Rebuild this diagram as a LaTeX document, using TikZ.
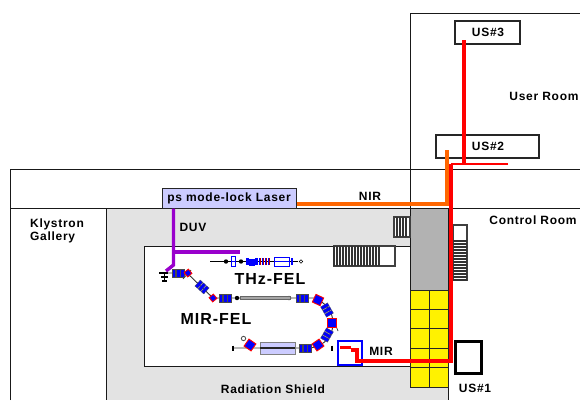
\documentclass[tikz,border=0pt]{standalone}
\usepackage{fontspec}
\setmainfont{Liberation Sans}[LetterSpace=6]
\usetikzlibrary{arrows.meta}
\usetikzlibrary{calc}

\definecolor{shieldgray}{RGB}{227,227,227}
\definecolor{blockgray}{RGB}{178,178,178}
\definecolor{laserblue}{RGB}{204,204,255}
\definecolor{duvpurple}{RGB}{153,0,204}
\definecolor{nirorange}{RGB}{255,102,0}

\tikzset{
    wall/.style={draw=black!90, line width=0.9pt},
    roomlabel/.style={inner sep=0pt, font=\bfseries\fontsize{12}{13.5}\selectfont},
    bigtext/.style={inner sep=0pt, font=\bfseries\fontsize{16}{18}\selectfont},
    userbox/.style={draw=black!85, line width=1.8pt, fill=white},
    stairs/.style={draw=black!75, line width=1.2pt},
    beam/.style={red, line width=3.4pt},
    beamline/.style={draw=black!80, line width=0.9pt},
    quadm/.style={fill=blue, draw=black!70, line width=0.3pt, minimum width=3.4pt, minimum height=8pt, inner sep=0pt},
    dipole/.style={fill=blue, draw=red, line width=0.9pt, minimum width=8.5pt, minimum height=8.5pt, inner sep=0pt},
    dipolesmall/.style={dipole, minimum width=5.5pt, minimum height=5.5pt},
}

\newcommand{\triplet}[3]{%
    \foreach \d in {-4.2,0,4.2} {
        \node[quadm, rotate=-#3] at ($(#1,#2)+(#3:\d)$) {};
    }
}

\begin{document}
\begin{tikzpicture}[x=1pt, y=-1pt]
    \useasboundingbox (0, 0) rectangle (580, 400);

    % building
    \fill[shieldgray] (106, 208) rectangle (448, 400);
    \fill[white] (144, 246) rectangle (410, 366);
    \draw[wall] (10, 400) -- (10, 169) -- (580, 169);
    \draw[wall] (10, 208) -- (580, 208);
    \draw[wall] (106, 208) -- (106, 400);
    \draw[wall] (580, 13) -- (410, 13) -- (410, 208);
    \draw[wall] (448, 208) -- (448, 400);
    \draw[wall] (144, 246) rectangle (410, 366);

    % concrete and yellow blocks
    \draw[wall, fill=blockgray] (410, 208) rectangle (448, 290);
    \foreach \r in {0,...,4} {
        \foreach \c in {0,1} {
            \draw[black!85, line width=1pt, fill=yellow] (410+19*\c, 290+19.4*\r) rectangle +(19, 19.4);
        }
    }

    % stairs
    \draw[stairs, fill=white] (394, 217) rectangle (410, 237);
    \foreach \i in {397,400,...,408} {
        \draw[black!80, line width=1.2pt] (\i, 217) -- (\i, 237);
    }
    \draw[stairs, fill=white] (334, 246) rectangle (395, 266);
    \foreach \i in {334,337,...,380} {
        \draw[black!80, line width=1.2pt] (\i, 246) -- (\i, 266);
    }
    \draw[stairs, fill=white] (453, 225) rectangle (467, 280);
    \foreach \i in {241,244,...,280} {
        \draw[black!80, line width=1.2pt] (453, \i) -- (467, \i);
    }

    % THz-FEL line
    \draw[black, line width=1.2pt] (210, 261.5) -- (298, 261.5);
    \draw[black, fill=white, line width=0.6pt] (301, 261.5) circle (1.8);
    \fill[black] (226, 261.5) circle (2.2);
    \fill[black] (241, 261.5) circle (2.2);
    \draw[blue, line width=0.8pt, fill=white] (231, 256) rectangle (235.5, 266.5);
    \draw[blue, line width=0.8pt] (231, 261.5) -- (235.5, 261.5);
    \foreach \i/\j in {246/0, 249/1, 252/1, 255/0} {
        \fill[blue] (\i, 257.5+\j) rectangle +(2.6, 7.5);
    }
    \foreach \i in {259,262,265,268} {
        \fill[blue] (\i, 257.5) rectangle +(1.4, 7.5);
        \fill[red!70!black] (\i+1.4, 258) rectangle +(1, 6.5);
    }
    \draw[blue, line width=0.8pt] (274, 257) rectangle (289, 266.5);
    \draw[blue, line width=0.8pt] (274, 261.5) -- (289, 261.5);
    \fill[blue] (291, 258) rectangle +(2, 7);

    % MIR-FEL line
    \draw[beamline] (159, 273) -- (187, 273) -- (213, 298) -- (315, 298)
        .. controls (326, 303) and (333, 312) .. (333, 323)
        .. controls (333, 334) and (327, 342) .. (318, 346)
        -- (311, 348) -- (232, 348);
    \draw[black, line width=1.2pt] (159, 273) -- (168, 273);
    \draw[black, line width=1.2pt] (161, 277) -- (168, 277);
    \draw[black, line width=1.2pt] (164.5, 273) -- (164.5, 282);
    \draw[black, line width=1.2pt] (162, 281) -- (167, 281);
    \draw[black!80, line width=0.7pt] (191, 270) -- (183, 279);
    \draw[black!80, line width=0.7pt] (336, 326) -- (338, 331);
    \triplet{178}{273}{0}
    \node[dipolesmall, rotate=40] at (188, 273) {};
    \triplet{202}{287}{42}
    \node[dipolesmall, rotate=40] at (213, 298) {};
    \triplet{225}{298}{0}
    \fill[black] (237, 298) circle (2.2);
    \fill[black] (289, 298) circle (2.2);
    \draw[black!60, fill=black!35, line width=0.6pt] (240, 296.5) rectangle (290, 299.5);
    \triplet{302}{298}{0}
    \node[dipole, rotate=-25] at (318, 300) {};
    \triplet{327}{310}{60}
    \node[dipole, rotate=0] at (332, 323) {};
    \triplet{327}{335}{120}
    \node[dipole, rotate=35] at (318, 345) {};
    \triplet{305}{348}{0}
    \node[dipole, rotate=-35] at (250, 345) {};
    \draw[black!70, fill=white, line width=0.8pt] (243.5, 338.5) circle (2.2);
    \draw[black, line width=1.4pt] (233, 345.5) -- (233, 350.5);
    \draw[black, line width=1.4pt] (332, 345.5) -- (332, 350.5);

    % undulator
    \draw[black!50, fill=laserblue, line width=0.6pt] (260, 342) rectangle (295, 354);
    \draw[black!85, line width=2.2pt] (260, 348) -- (295, 348);

    % MIR box
    \draw[blue, line width=1.2pt] (338, 341) rectangle (362, 365);

    % user stations and laser
    \node[userbox, minimum width=65pt, minimum height=23pt, inner sep=0pt] (us3) at (487.5, 32.5) {};
    \node[userbox, minimum width=103pt, minimum height=23pt, inner sep=0pt] (us2) at (487.5, 146.5) {};
    \node[draw=black, line width=3pt, fill=white, minimum width=26pt, minimum height=32pt, inner sep=0pt] (us1) at (468, 357) {};
    \node[draw=black!85, line width=1pt, fill=laserblue, minimum width=134pt, minimum height=20pt, inner sep=0pt] (laser) at (229, 198) {};
    \node[roomlabel] (us3text) at (488, 32) {US\#3};
    \node[roomlabel] (us2text) at (488, 146.5) {US\#2};

    % beams
    \coordinate (duvbranch) at (173.5, 252);
    \coordinate (duvend) at (240, 252);
    \coordinate (duvbottom) at (173.5, 265);
    \coordinate (duvgun) at (166, 271);
    \draw[duvpurple, line width=3.4pt] (duvbranch) -- (duvend);
    \draw[duvpurple, line width=3.4pt] (laser.south -| duvbottom) -- (duvbottom) -- (duvgun);

    \coordinate (nirturn) at (447, 204);
    \draw[nirorange, line width=3.4pt] (laser.east |- nirturn) -- (nirturn) -- (447, 150);

    \coordinate (split) at (451, 164);
    \coordinate (mirturn) at (451, 361);
    \coordinate (us3end) at (464, 40);
    \draw[beam] (us3end) -- (464, 164);
    \draw[beam, line width=2.4pt] (508, 164) -- (split);
    \draw[beam] (split) -- (mirturn) -- (357, 361) -- (357, 350) -- (351, 350);
    \draw[beam] (340, 347.5) -- (351, 347.5);

    % labels
    \node[roomlabel] (lasertext) at (229, 198.5) {ps mode-lock Laser};
    \node[roomlabel] (nirtext) at (370, 196) {NIR};
    \node[roomlabel] (duvtext) at (193, 227) {DUV};
    \node[roomlabel] (mirtext) at (381, 351) {MIR};
    \node[roomlabel] (us1text) at (475, 388) {US\#1};
    \node[roomlabel] (usertext) at (544, 96) {User Room};
    \node[roomlabel] (controltext) at (533, 220) {Control Room};
    \node[roomlabel] (shieldtext) at (273, 389) {Radiation Shield};
    \node[roomlabel, align=left] (gallerytext) at (57, 231) {Klystron\\Gallery};
    \node[bigtext] (thztext) at (270, 279) {THz-FEL};
    \node[bigtext] (mirfeltext) at (216, 319) {MIR-FEL};
\end{tikzpicture}
\end{document}
